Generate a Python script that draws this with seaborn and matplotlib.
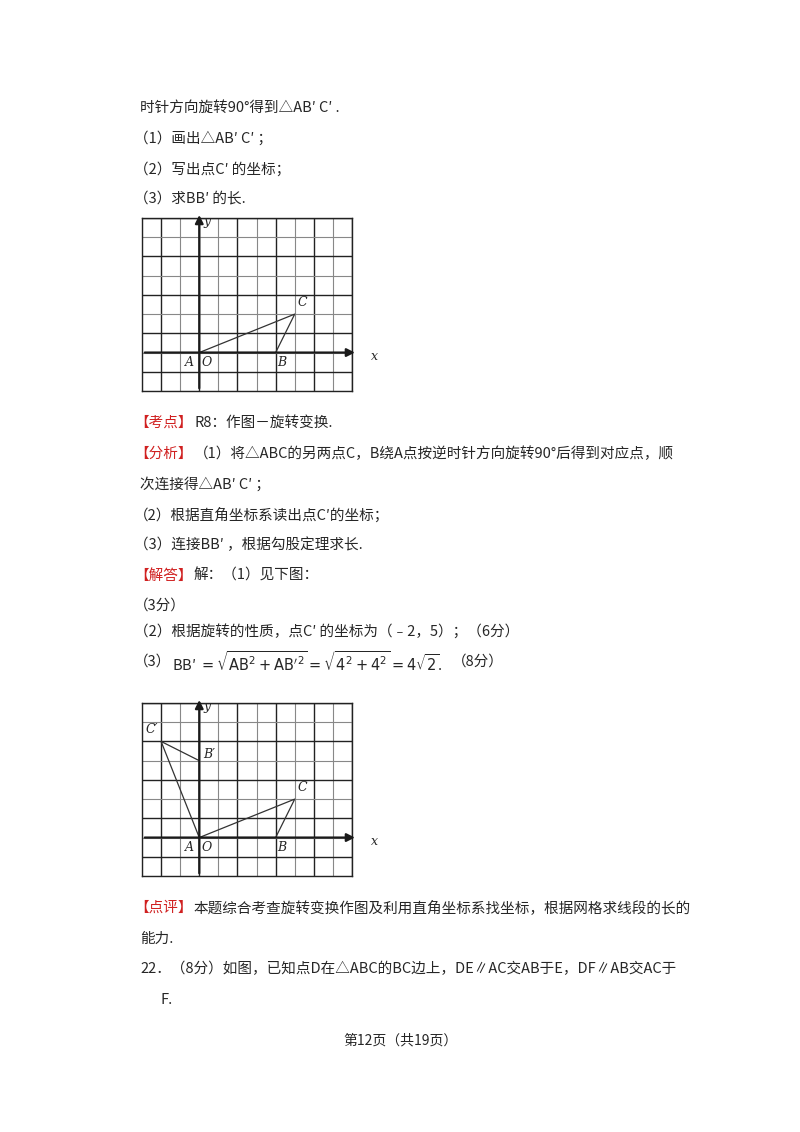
import matplotlib
matplotlib.use("Agg")
import matplotlib.pyplot as plt
import seaborn as sns

sns.set_theme(style="white")
plt.rcParams['font.family'] = ['Noto Sans CJK SC', 'DejaVu Sans']

labels = ["A", "B", "C"]
xs = [0, 4, 5]
ys = [0, 0, 2]
labels_rot = ["B′", "C′"]
xs_rot = [0, -2]
ys_rot = [4, 5]
xlim = [-3, 8]
ylim = [-2, 7]

W, H = 800, 1132
fig = plt.figure(figsize=(8, 11.32), dpi=100)

def t(x, y, s, **kw):
    kw.setdefault("fontsize", 10.5)
    fig.text(x / W, 1 - y / H, s, va="center", ha="left", **kw)

lines = [
    (140, 108, "时针方向旋转90°得到△AB′ C′ ."),
    (134, 138, "（1）画出△AB′ C′ ；"),
    (134, 169, "（2）写出点C′ 的坐标；"),
    (134, 199, "（3）求BB′ 的长."),
    (140, 484, "次连接得△AB′ C′ ；"),
    (134, 515, "（2）根据直角坐标系读出点C′的坐标；"),
    (134, 545, "（3）连接BB′ ，根据勾股定理求长."),
    (134, 606, "（3分）"),
    (134, 631, "（2）根据旋转的性质，点C′ 的坐标为（﹣2，5）；（6分）"),
    (140, 969, "22．（8分）如图，已知点D在△ABC的BC边上，DE∥AC交AB于E，DF∥AB交AC于"),
    (160, 1000, "F."),
    (140, 939, "能力."),
]
for x, y, s in lines:
    t(x, y, s)
t(134, 423, "【考点】", color="#d02020"); t(194, 423, "R8：作图－旋转变换.")
t(134, 454, "【分析】", color="#d02020"); t(194, 454, "（1）将△ABC的另两点C，B绕A点按逆时针方向旋转90°后得到对应点，顺")
t(134, 576, "【解答】", color="#d02020"); t(194, 576, "解：（1）见下图：")
t(134, 908, "【点评】", color="#d02020"); t(194, 908, "本题综合考查旋转变换作图及利用直角坐标系找坐标，根据网格求线段的长的")
t(134, 662, "（3）")
t(172, 662, r"BB′ $=\sqrt{\mathrm{AB}^2+\mathrm{AB}'^2}=\sqrt{4^2+4^2}=4\sqrt{2}$.", fontsize=10.5)
t(452, 662, "（8分）")
fig.text(0.5, 1 - 1040 / H, "第12页（共19页）", ha="center", va="center", fontsize=10)

def grid_axes(top, show_rot):
    ax = fig.add_axes([142 / W, 1 - (top + 173) / H, 210 / W, 173 / H])
    ax.set_xlim(*xlim); ax.set_ylim(*ylim)
    for v in range(xlim[0], xlim[1] + 1):
        ax.axvline(v, color="#222" if v % 2 == 0 else "#888", lw=1.0 if v % 2 == 0 else 0.8)
    for v in range(ylim[0], ylim[1] + 1):
        ax.axhline(v, color="#222" if v % 2 == 1 else "#888", lw=1.0 if v % 2 == 1 else 0.8)
    ax.annotate("", xy=(8.3, 0), xytext=(-3, 0), arrowprops=dict(arrowstyle="-|>", color="k", lw=1.6), annotation_clip=False)
    ax.annotate("", xy=(0, 7.3), xytext=(0, -2), arrowprops=dict(arrowstyle="-|>", color="k", lw=1.6), annotation_clip=False)
    ax.plot(xs + [xs[0]], ys + [ys[0]], color="#333", lw=0.9)
    fs = dict(fontsize=9, style="italic", family="DejaVu Serif")
    ax.text(-0.5, -0.5, "A", ha="center", va="center", **fs)
    ax.text(0.4, -0.5, "O", ha="center", va="center", **fs)
    ax.text(4.3, -0.5, "B", ha="center", va="center", **fs)
    ax.text(5.4, 2.6, "C", ha="center", va="center", **fs)
    ax.text(0.4, 6.8, "y", ha="center", va="center", **fs)
    ax.text(9.2, -0.2, "x", ha="center", va="center", clip_on=False, **fs)
    if show_rot:
        ax.plot([0, xs_rot[1], xs_rot[0]], [0, ys_rot[1], ys_rot[0]], color="#333", lw=0.9)
        ax.text(-2.5, 5.6, "C′", ha="center", va="center", **fs)
        ax.text(0.5, 4.3, "B′", ha="center", va="center", **fs)
    ax.set_xticks([]); ax.set_yticks([])
    for s in ax.spines.values():
        s.set_color("#222"); s.set_linewidth(1.0)

grid_axes(218, False)
grid_axes(703, True)
fig.savefig("out.png", dpi=100, facecolor="white")
